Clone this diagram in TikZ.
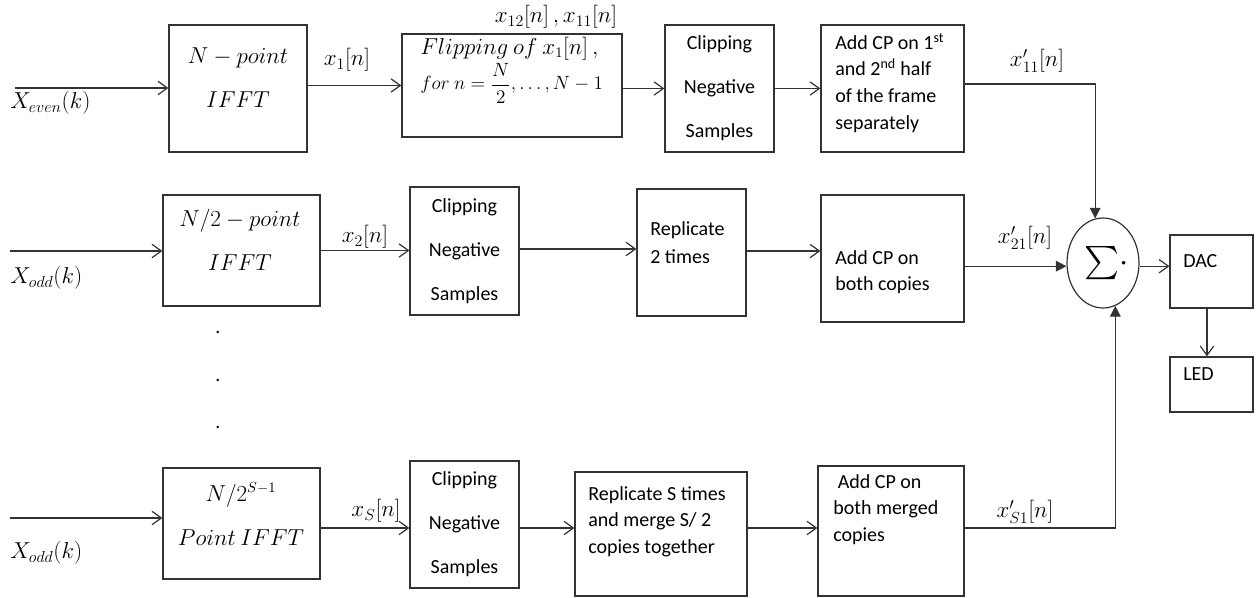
\documentclass[tikz,border=0pt]{standalone}
\usepackage{amsmath}
\usepackage{fontspec}
\setmainfont{Carlito}
\usetikzlibrary{arrows.meta,shapes.geometric}

\tikzset{
    blk/.style 2 args={draw=black!80, line width=0.9pt, minimum width=#1*0.75pt, minimum height=#2*0.75pt, inner sep=0pt},
    txt/.style={font=\fontsize{15}{20}\selectfont, inner sep=0pt},
    mtxt/.style={font=\fontsize{16}{20}\selectfont, inner sep=0pt},
    sig/.style={font=\fontsize{17.5}{20}\selectfont, inner sep=0pt},
    wire/.style={draw=black!80, line width=0.9pt},
    arr/.style={wire, -{Straight Barb[length=7pt,width=10pt]}},
    sarr/.style={wire, -{Triangle[length=8pt,width=8pt]}},
}

\begin{document}
\begin{tikzpicture}[x=0.75pt, y=-0.75pt]
    \useasboundingbox (0,0) rectangle (1258,598);

    % Even branch (top row)
    \node[blk={138}{127}] (ifftA) at (238,88.5) {};
    \node[blk={220}{103}] (flip) at (512,85.5) {};
    \node[blk={109}{127}, txt, align=center] (clipA) at (719.5,88.5) {Clipping\\[13pt]Negative\\[13pt]Samples};
    \node[blk={143}{127}] (cpA) at (892.5,88.5) {};

    \node[mtxt, align=center] (ifftAtxt) at (238,78) {$N-point$\\[13pt]$IFFT$};
    \node[txt, align=left, anchor=west] (fliptxt) at (420,70) {{\fontsize{16}{20}\selectfont$Flipping\ of\ x_1[n]\,,$}\\[2pt]$for\ n=\dfrac{N}{2},\ldots,N-1$};
    \node[txt, align=left, anchor=north west] (cpAtxt) at (835,33) {Add CP on 1\textsuperscript{st}\\and 2\textsuperscript{nd} half\\of the frame\\separately};

    % Odd branch (middle row)
    \node[blk={157}{111}] (ifftB) at (241.5,250.5) {};
    \node[blk={109}{128}, txt, align=center] (clipB) at (464.5,251) {Clipping\\[13pt]Negative\\[13pt]Samples};
    \node[blk={109}{127}] (repB) at (691.5,252.5) {};
    \node[blk={143}{127}] (cpB) at (892.5,258.5) {};

    \node[mtxt, align=center] (ifftBtxt) at (240,240) {$N/2-point$\\[13pt]$IFFT$};
    \node[txt, align=left, anchor=north west] (repBtxt) at (650,221) {Replicate\\[1pt]2 times};
    \node[txt, align=left, anchor=north west] (cpBtxt) at (835,250) {Add CP on\\both copies};

    % Odd branch, stage S (bottom row)
    \node[blk={157}{111}] (ifftC) at (241.5,523.5) {};
    \node[blk={109}{127}, txt, align=center] (clipC) at (464.5,524.5) {Clipping\\[13pt]Negative\\[13pt]Samples};
    \node[blk={172}{124}] (repC) at (661,534) {};
    \node[blk={146}{130}] (cpC) at (891,531) {};

    \node[mtxt, align=center] (ifftCtxt) at (241,514) {$N/2^{S-1}$\\[13pt]$Point\ IFFT$};
    \node[txt, align=left, anchor=north west] (repCtxt) at (588,486) {Replicate S times\\and merge S/ 2\\copies together};
    \node[txt, align=left, anchor=north west] (cpCtxt) at (833,474) {\ Add CP on\\both merged\\copies};

    % Sum, DAC and LED
    \node[ellipse, draw=black!80, line width=0.9pt, minimum width=66*0.75pt, minimum height=90*0.75pt, inner sep=0pt, font=\fontsize{24}{28}\selectfont] (sum) at (1103,263) {\raisebox{3pt}{\hspace{5pt}$\sum\!{\cdot}$}};
    \node[blk={83}{73}] (dac) at (1211.5,271.5) {};
    \node[blk={83}{55}] (led) at (1211.5,384.5) {};
    \node[txt, anchor=west] (dactxt) at (1183,261) {DAC};
    \node[txt, anchor=west] (ledtxt) at (1183,374) {LED};

    % Dots between the rows
    \foreach \i/\y in {1/332, 2/380, 3/427}
        \node[txt] (dot\i) at (218,\y) {.};

    % Inputs
    \coordinate (inA) at (15,88);
    \coordinate (inB) at (10,251);
    \coordinate (inC) at (10,518);
    \coordinate (rowC) at (0,528);

    \draw[arr] (inA) -- (inA -| ifftA.west);
    \draw[arr] (inB) -- (inB -| ifftB.west);
    \draw[arr] (inC) -- (inC -| ifftC.west);

    \node[sig, anchor=west] (xeven) at (10,103) {$X_{even}(k)$};
    \node[sig, anchor=west] (xoddB) at (10,278) {$X_{odd}(k)$};
    \node[sig, anchor=west] (xoddC) at (10,553) {$X_{odd}(k)$};

    % Top row connectors
    \draw[arr] (ifftA.east |- flip.west) -- (flip.west);
    \draw[arr] (flip.east |- clipA.west) -- (clipA.west);
    \draw[arr] (clipA.east) -- (cpA.west);
    \draw[sarr] (cpA.east |- 0,84) -| (sum.100);

    % Middle row connectors
    \draw[arr] (ifftB.east) -- (ifftB.east -| clipB.west);
    \draw[arr] (clipB.east |- 0,249) -- (repB.west |- 0,249);
    \draw[arr] (repB.east |- 0,251) -- (cpB.west |- 0,251);
    \draw[sarr] (cpB.east |- sum.185) -- (sum.185);

    % Bottom row connectors
    \draw[arr] (ifftC.east |- rowC) -- (clipC.west |- rowC);
    \draw[arr] (clipC.east |- rowC) -- (repC.west |- rowC);
    \draw[arr] (repC.east |- rowC) -- (cpC.west |- rowC);
    \draw[sarr] (cpC.east |- rowC) -| (sum.-74);

    % Output side
    \draw[arr] (sum.-5) -- (sum.-5 -| dac.west);
    \draw[arr] (dac.south -| 1207,0) -- (led.north -| 1207,0);

    % Signal labels
    \node[sig] (xA) at (347,60) {$x_1[n]$};
    \node[sig] (xflip) at (556,17) {$x_{12}[n]\,,x_{11}[n]$};
    \node[sig] (xcpA) at (1037,61) {$x'_{11}[n]$};
    \node[sig] (xB) at (365,237) {$x_2[n]$};
    \node[sig] (xcpB) at (1025,238) {$x'_{21}[n]$};
    \node[sig] (xC) at (376,511) {$x_S[n]$};
    \node[sig] (xcpC) at (1025,512) {$x'_{S1}[n]$};
\end{tikzpicture}
\end{document}
